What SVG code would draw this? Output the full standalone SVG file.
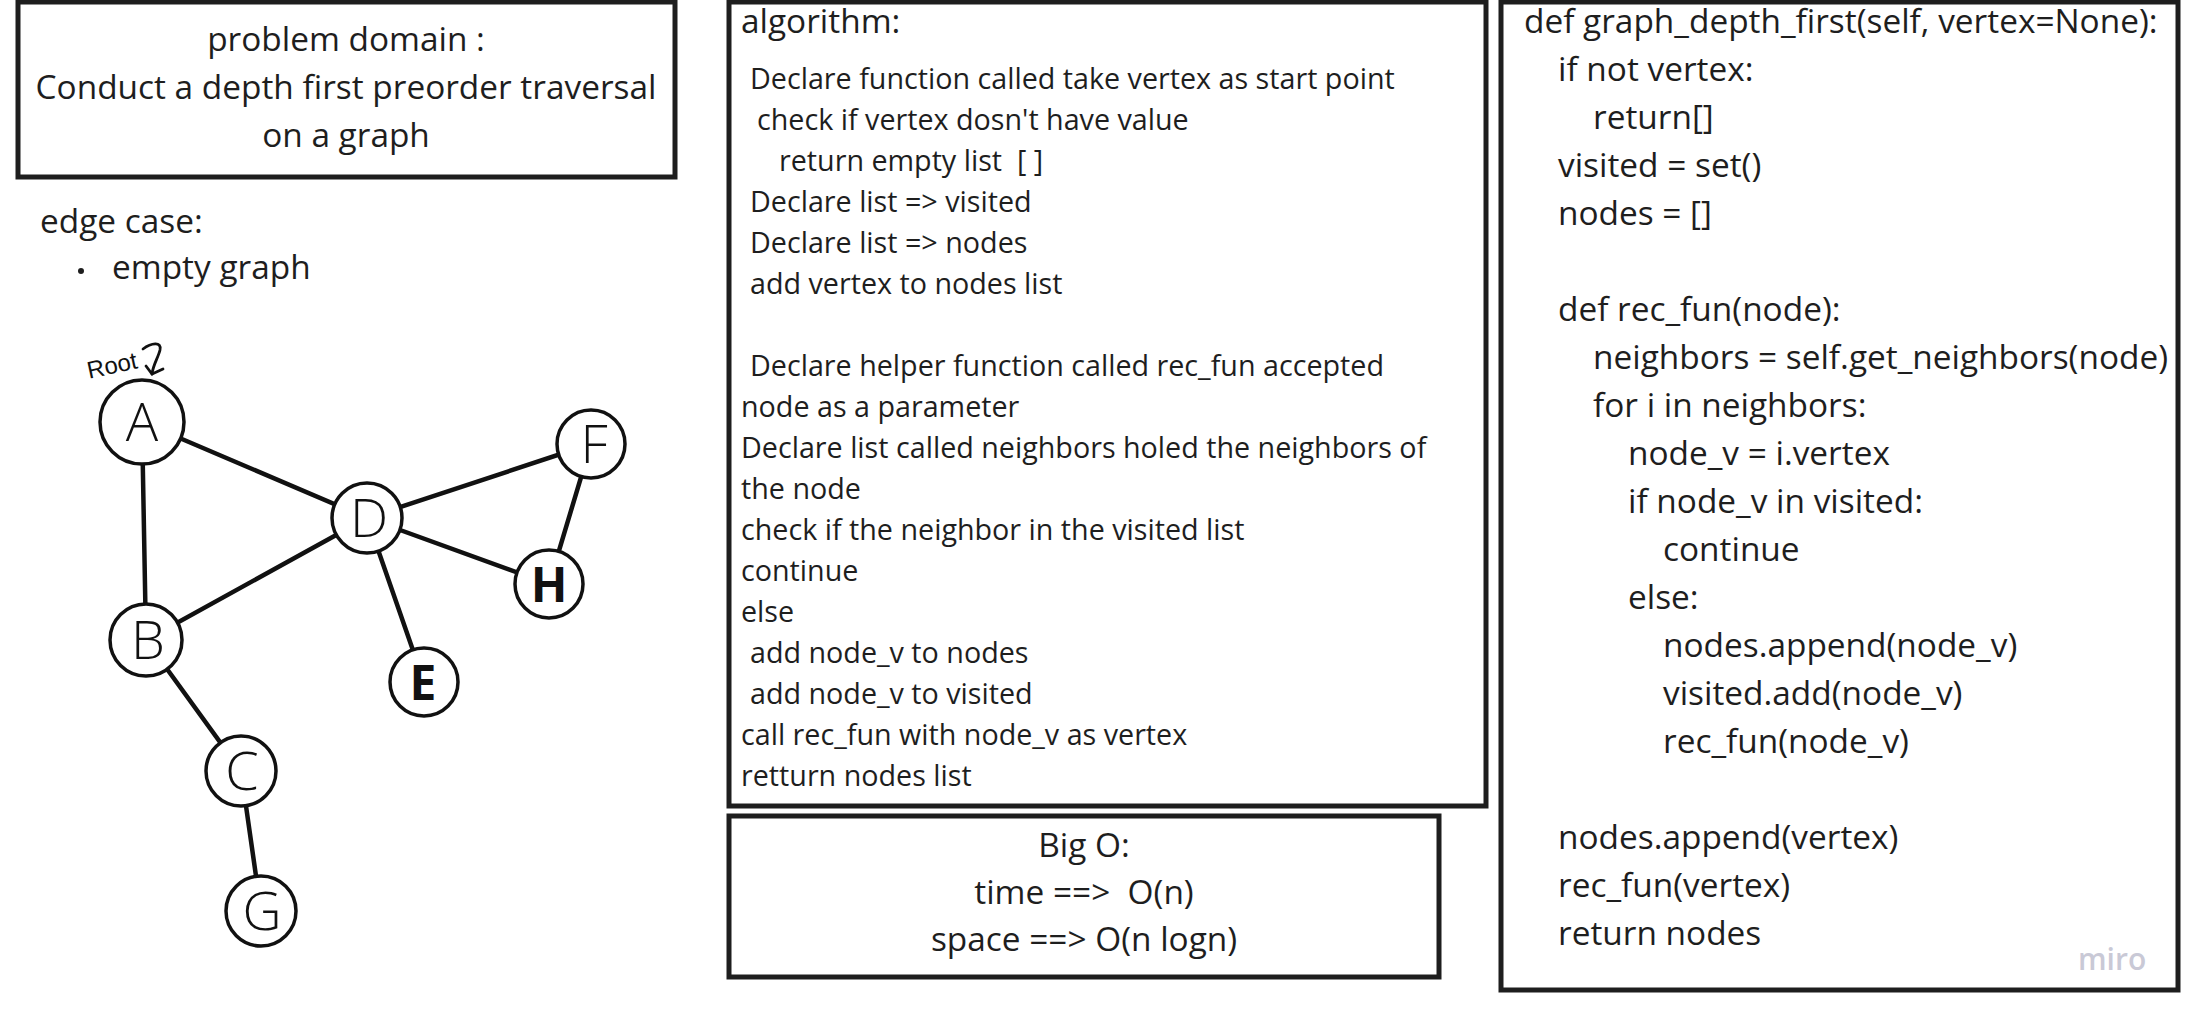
<svg xmlns="http://www.w3.org/2000/svg" width="2197" height="1023" viewBox="0 0 2197 1023">
  <style>
    .box { fill: #ffffff; stroke: #1e1e1e; stroke-width: 5; }
    .t32 { font-family: "Open Sans", "Liberation Sans", sans-serif; font-size: 33.4px; fill: #1e1e1e; white-space: pre; }
    .t27 { font-family: "Open Sans", "Liberation Sans", sans-serif; font-size: 28.7px; fill: #1e1e1e; white-space: pre; }
    .mid { text-anchor: middle; }
    .edge { stroke: #111111; stroke-width: 4.5; fill: none; stroke-linecap: round; }
    .vtx { fill: #ffffff; stroke: #111111; stroke-width: 3.5; }
    .lbl { font-family: "Open Sans", "Liberation Sans", sans-serif; font-size: 54px; font-weight: 300; fill: #111111; text-anchor: middle; }
    .lblb { font-family: "Open Sans", "Liberation Sans", sans-serif; font-size: 48px; font-weight: 700; fill: #111111; text-anchor: middle; }
  </style>
  <rect width="2197" height="1023" fill="#ffffff"/>

  <g id="problem-domain">
    <rect class="box" x="18" y="2" width="657" height="175"/>
    <text class="t32 mid" x="346" y="51">problem domain :</text>
    <text class="t32 mid" x="346" y="99">Conduct a depth first preorder traversal</text>
    <text class="t32 mid" x="346" y="147">on a graph</text>
  </g>

  <g id="edge-case">
    <text class="t32" x="40" y="233">edge case:</text>
    <circle cx="81" cy="271" r="3" fill="#1e1e1e"/>
    <text class="t32" x="112" y="279">empty graph</text>
  </g>

  <g id="root-label">
    <text x="86" y="374" font-family="Liberation Sans, sans-serif" font-size="24" fill="#111" transform="rotate(-12 110 362)">Root</text>
    <path class="edge" style="stroke-width:2.8" d="M143,349 C151,343 162,341 160,350 C158,358 153,365 152,374"/>
    <path class="edge" style="stroke-width:2.8" d="M146,366 L152,374 L163,369"/>
  </g>

  <g id="connectors">
    <line class="edge" x1="142" y1="422" x2="367" y2="518"/>
    <line class="edge" x1="142" y1="422" x2="146" y2="640"/>
    <line class="edge" x1="146" y1="640" x2="367" y2="518"/>
    <line class="edge" x1="367" y1="518" x2="591" y2="444"/>
    <line class="edge" x1="367" y1="518" x2="549" y2="584"/>
    <line class="edge" x1="591" y1="444" x2="549" y2="584"/>
    <line class="edge" x1="367" y1="518" x2="424" y2="682"/>
    <line class="edge" x1="146" y1="640" x2="241" y2="771"/>
    <line class="edge" x1="241" y1="771" x2="261" y2="911"/>
  </g>

  <g id="node-A"><circle class="vtx" cx="142" cy="422" r="42"/><text class="lbl" x="142" y="441">A</text></g>
  <g id="node-B"><circle class="vtx" cx="146" cy="640" r="36"/><text class="lbl" x="148" y="659">B</text></g>
  <g id="node-C"><circle class="vtx" cx="241" cy="771" r="35"/><text class="lbl" x="242" y="790">C</text></g>
  <g id="node-G"><circle class="vtx" cx="261" cy="911" r="35"/><text class="lbl" x="262" y="930">G</text></g>
  <g id="node-D"><circle class="vtx" cx="367" cy="518" r="35"/><text class="lbl" x="369" y="537">D</text></g>
  <g id="node-E"><circle class="vtx" cx="424" cy="682" r="34"/><text class="lblb" x="423" y="700">E</text></g>
  <g id="node-F"><circle class="vtx" cx="591" cy="444" r="34"/><text class="lbl" x="594" y="463">F</text></g>
  <g id="node-H"><circle class="vtx" cx="549" cy="584" r="34"/><text class="lblb" x="549" y="602">H</text></g>

  <g id="algorithm">
    <rect class="box" x="729" y="2" width="757" height="804"/>
    <text class="t32" x="741" y="33">algorithm:</text>
    <text class="t27" x="750" y="89">Declare function called take vertex as start point</text>
    <text class="t27" x="757" y="130">check if vertex dosn't have value</text>
    <text class="t27" x="779" y="171">return empty list  [ ]</text>
    <text class="t27" x="750" y="212">Declare list =&gt; visited</text>
    <text class="t27" x="750" y="253">Declare list =&gt; nodes</text>
    <text class="t27" x="750" y="294">add vertex to nodes list</text>
    <text class="t27" x="750" y="376">Declare helper function called rec_fun accepted</text>
    <text class="t27" x="741" y="417">node as a parameter</text>
    <text class="t27" x="741" y="458">Declare list called neighbors holed the neighbors of</text>
    <text class="t27" x="741" y="499">the node</text>
    <text class="t27" x="741" y="540">check if the neighbor in the visited list</text>
    <text class="t27" x="741" y="581">continue</text>
    <text class="t27" x="741" y="622">else</text>
    <text class="t27" x="750" y="663">add node_v to nodes</text>
    <text class="t27" x="750" y="704">add node_v to visited</text>
    <text class="t27" x="741" y="745">call rec_fun with node_v as vertex</text>
    <text class="t27" x="741" y="786">retturn nodes list</text>
  </g>

  <g id="big-o">
    <rect class="box" x="729" y="816" width="710" height="161"/>
    <text class="t32 mid" x="1084" y="857">Big O:</text>
    <text class="t32 mid" x="1084" y="904">time ==&gt;  O(n)</text>
    <text class="t32 mid" x="1084" y="951">space ==&gt; O(n logn)</text>
  </g>

  <g id="code">
    <rect class="box" x="1501" y="2" width="677" height="988"/>
    <text class="t32" x="1524" y="33">def graph_depth_first(self, vertex=None):</text>
    <text class="t32" x="1558" y="81">if not vertex:</text>
    <text class="t32" x="1593" y="129">return[]</text>
    <text class="t32" x="1558" y="177">visited = set()</text>
    <text class="t32" x="1558" y="225">nodes = []</text>
    <text class="t32" x="1558" y="321">def rec_fun(node):</text>
    <text class="t32" x="1593" y="369">neighbors = self.get_neighbors(node)</text>
    <text class="t32" x="1593" y="417">for i in neighbors:</text>
    <text class="t32" x="1628" y="465">node_v = i.vertex</text>
    <text class="t32" x="1628" y="513">if node_v in visited:</text>
    <text class="t32" x="1663" y="561">continue</text>
    <text class="t32" x="1628" y="609">else:</text>
    <text class="t32" x="1663" y="657">nodes.append(node_v)</text>
    <text class="t32" x="1663" y="705">visited.add(node_v)</text>
    <text class="t32" x="1663" y="753">rec_fun(node_v)</text>
    <text class="t32" x="1558" y="849">nodes.append(vertex)</text>
    <text class="t32" x="1558" y="897">rec_fun(vertex)</text>
    <text class="t32" x="1558" y="945">return nodes</text>
    <text x="2078" y="970" font-family="Open Sans, sans-serif" font-size="30" font-weight="600" fill="#c9c9d6">miro</text>
  </g>
</svg>
